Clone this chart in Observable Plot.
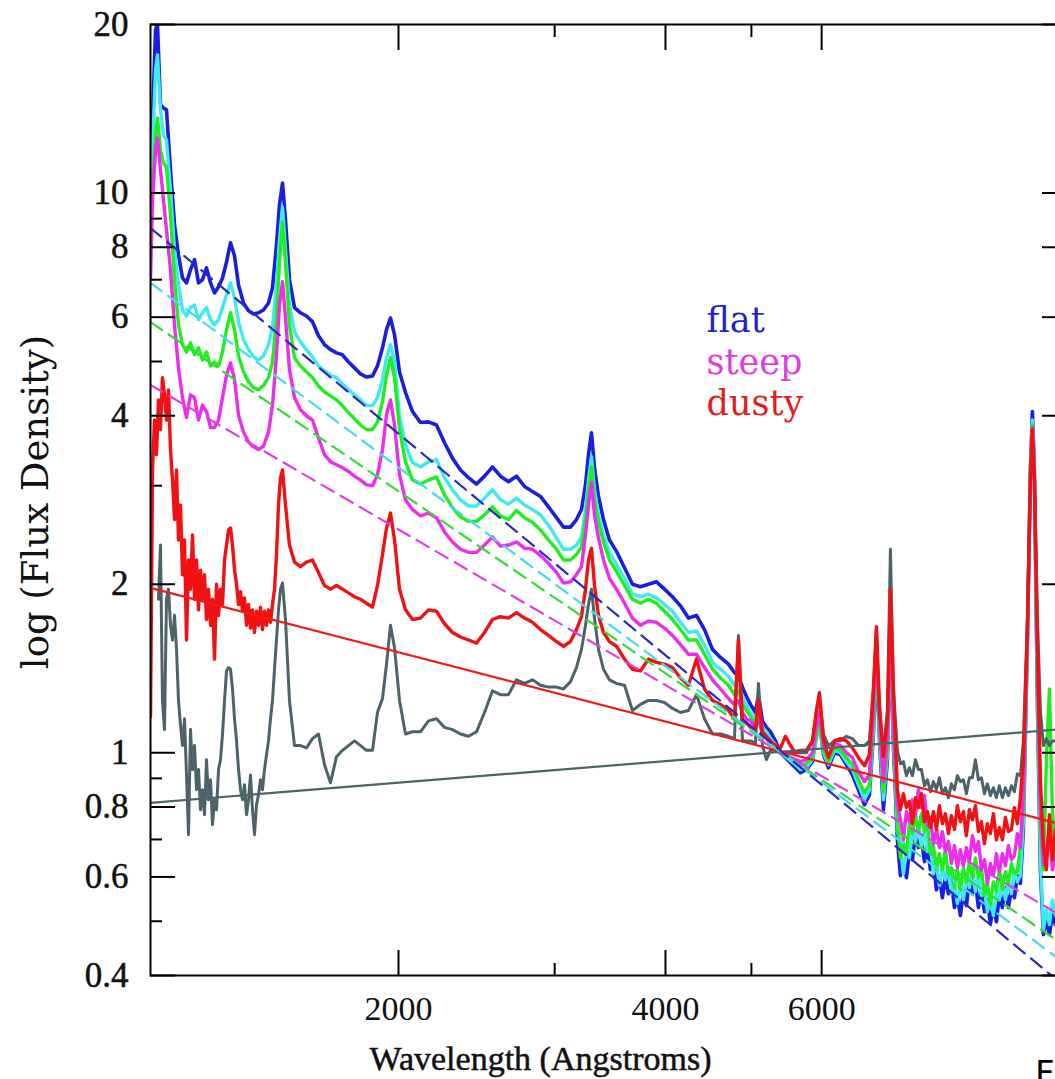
<!DOCTYPE html>
<html>
<head>
<meta charset="utf-8">
<script src="https://cdn.jsdelivr.net/npm/d3@7"></script>
<script src="https://cdn.jsdelivr.net/npm/@observablehq/plot@0.6"></script>
<style>
  html, body { margin: 0; padding: 0; background: #fff; overflow: hidden; width: 1055px; height: 1079px; }
  #chart { position: absolute; left: 0; top: 0; }
  #chart svg { max-width: none !important; display: block; }
  .corner { position: absolute; left: 1035px; top: 1056px; font: 34px "DejaVu Sans"; line-height: 34px; color: #000; }
</style>
</head>
<body>
<div id="chart"></div>
<div class="corner">F</div>
<script>
// Wavelength grid (Angstroms) shared by the composite spectra
const wavelength = [
  1050.5, 1056.0, 1064.3, 1069.7, 1078.1, 1086.5, 1095.0, 1106.5, 1118.1, 1129.7,
  1141.5, 1153.4, 1165.5, 1177.7, 1190.0, 1202.3, 1214.9, 1227.6, 1240.5, 1253.4,
  1266.5, 1279.7, 1293.0, 1306.6, 1320.2, 1337.4, 1354.9, 1372.5, 1390.5, 1408.6,
  1427.1, 1442.0, 1457.0, 1468.4, 1479.9, 1491.5, 1506.9, 1526.8, 1550.6, 1574.9,
  1599.7, 1624.8, 1650.4, 1676.3, 1702.6, 1729.3, 1756.5, 1784.2, 1812.1, 1840.5,
  1869.5, 1893.8, 1918.6, 1938.7, 1958.9, 1979.5, 2005.2, 2036.7, 2074.0, 2117.5,
  2162.0, 2207.3, 2253.8, 2300.9, 2349.2, 2398.5, 2448.9, 2500.4, 2552.7, 2606.3,
  2661.0, 2716.8, 2774.0, 2832.1, 2891.5, 2952.2, 3014.1, 3069.4, 3125.7, 3174.8,
  3216.2, 3249.9, 3275.3, 3300.8, 3326.8, 3361.3, 3405.2, 3458.5, 3522.1, 3596.3,
  3671.5, 3748.5, 3827.2, 3907.5, 3989.8, 4073.2, 4158.7, 4246.0, 4335.0, 4426.3,
  4518.9, 4613.7, 4710.6, 4784.7, 4834.4, 4884.8, 4935.8, 4987.3, 5052.6, 5092.0,
  5145.1, 5198.9, 5253.1, 5321.9, 5391.2, 5461.8, 5533.0, 5605.5, 5678.5, 5767.7,
  5858.1, 5919.3, 5965.3, 6027.8, 6106.7, 6202.9, 6299.8, 6398.7, 6499.1, 6601.3,
  6705.2, 6792.1, 6863.1, 6916.9, 6970.7, 7043.6, 7117.0, 7172.9, 7228.8, 7304.2,
  7361.5, 7418.9, 7477.1, 7535.2, 7594.4, 7654.1, 7713.8, 7774.0, 7835.2, 7895.7,
  7957.7, 8019.8, 8082.6, 8145.5, 8209.5, 8274.0, 8338.5, 8403.6, 8469.8, 8535.2,
  8602.2, 8669.3, 8737.3, 8805.2, 8874.3, 8944.1, 9013.8, 9084.2, 9155.7, 9226.4,
  9298.9, 9371.4, 9444.9, 9518.3, 9593.0, 9668.4, 9743.8, 9819.9, 9897.2, 9973.6,
  10052, 10130, 10236, 10316, 10370, 10424, 10505, 10588, 10671, 10754,
  10838, 10922, 11008, 11152
];

// Finer wavelength sampling of the noisy far-UV part of the dusty and grey spectra
const uvWavelength = [
  1050.5, 1056.0, 1061.5, 1067.0, 1072.5, 1078.1, 1083.7, 1089.4, 1095.0, 1100.7,
  1106.5, 1112.3, 1118.1, 1123.9, 1129.7, 1135.6, 1141.5, 1147.5, 1153.4, 1159.4,
  1165.5, 1171.6, 1177.7, 1183.8, 1190.0, 1196.1, 1202.3, 1208.6, 1214.9, 1221.2,
  1227.6, 1234.0, 1240.5, 1246.9, 1253.4, 1259.9, 1266.5, 1273.1, 1279.7, 1286.4,
  1293.0, 1299.8, 1306.6, 1313.4, 1320.2, 1327.0, 1333.9, 1340.9, 1347.9, 1354.9,
  1361.9, 1369.0, 1376.1, 1383.3, 1390.5, 1397.7, 1405.0, 1412.3, 1419.7, 1427.1,
  1434.5, 1442.0, 1449.5, 1457.0, 1464.6, 1472.2
];

// Flux density of the "flat" composite (blue)
const blueFlux = [
  9.14, 13.51, 19.56, 20.0, 14.37, 14.19, 14.08, 11.00, 8.77, 7.75,
  7.05, 6.91, 7.29, 7.60, 6.91, 7.00, 7.35, 6.91, 6.63, 6.80,
  7.05, 7.53, 8.15, 7.72, 6.85, 6.36, 6.16, 6.08, 6.11, 6.18,
  6.36, 6.77, 8.08, 9.52, 10.42, 8.95, 7.00, 6.24, 6.11, 6.03,
  5.89, 5.56, 5.36, 5.25, 5.18, 5.14, 4.99, 4.87, 4.75, 4.69,
  4.71, 4.91, 5.29, 5.70, 5.98, 5.58, 4.79, 4.40, 4.07, 3.89,
  3.90, 3.85, 3.58, 3.36, 3.20, 3.10, 3.02, 3.12, 3.24, 3.12,
  3.05, 3.12, 2.99, 2.93, 2.87, 2.75, 2.63, 2.53, 2.53, 2.61,
  2.72, 3.01, 3.41, 3.73, 3.23, 2.87, 2.61, 2.40, 2.29, 2.14,
  2.00, 1.98, 2.00, 2.02, 1.96, 1.90, 1.83, 1.74, 1.76, 1.66,
  1.53, 1.48, 1.44, 1.39, 1.37, 1.31, 1.26, 1.22, 1.18, 1.27,
  1.14, 1.11, 1.09, 1.05, 1.00, 0.980, 0.960, 0.940, 0.921, 0.933,
  0.964, 1.08, 1.14, 0.992, 0.940, 1.00, 0.992, 0.952, 0.913, 0.859,
  0.807, 0.841, 1.08, 1.47, 1.06, 0.791, 0.972, 1.69, 1.03, 0.699,
  0.603, 0.639, 0.598, 0.666, 0.644, 0.717, 0.677, 0.705, 0.639, 0.677,
  0.618, 0.639, 0.569, 0.598, 0.551, 0.603, 0.560, 0.588, 0.529, 0.551,
  0.512, 0.565, 0.533, 0.593, 0.560, 0.588, 0.529, 0.565, 0.520, 0.546,
  0.495, 0.533, 0.499, 0.556, 0.529, 0.574, 0.529, 0.569, 0.551, 0.603,
  0.584, 0.729, 1.59, 3.20, 4.07, 3.20, 1.24, 0.618, 0.473, 0.503,
  0.473, 0.514, 0.493, 0.483
];

// Cyan composite
const cyanFlux = [
  7.91, 11.94, 16.59, 17.65, 14.08, 12.70, 12.44, 10.13, 7.91, 6.85,
  6.18, 6.03, 6.24, 6.31, 5.94, 6.11, 6.24, 5.94, 5.81, 5.94,
  6.24, 6.58, 6.91, 6.50, 5.89, 5.47, 5.25, 5.10, 5.03, 5.12,
  5.36, 5.77, 6.85, 8.25, 9.44, 7.91, 6.31, 5.65, 5.42, 5.25,
  5.10, 4.91, 4.81, 4.73, 4.68, 4.56, 4.45, 4.36, 4.27, 4.17,
  4.17, 4.31, 4.64, 5.08, 5.36, 4.99, 4.00, 3.55, 3.30, 3.24,
  3.31, 3.34, 3.10, 2.95, 2.83, 2.76, 2.76, 2.85, 2.95, 2.83,
  2.78, 2.85, 2.77, 2.72, 2.66, 2.55, 2.42, 2.31, 2.31, 2.35,
  2.43, 2.72, 3.07, 3.38, 2.95, 2.66, 2.45, 2.28, 2.17, 2.05,
  1.92, 1.90, 1.92, 1.89, 1.84, 1.79, 1.71, 1.64, 1.65, 1.56,
  1.45, 1.41, 1.37, 1.32, 1.32, 1.26, 1.22, 1.18, 1.15, 1.20,
  1.11, 1.09, 1.06, 1.033, 1.00, 0.984, 0.968, 0.952, 0.933, 0.940,
  0.972, 1.06, 1.12, 1.00, 0.952, 1.01, 1.00, 0.964, 0.933, 0.877,
  0.824, 0.859, 1.10, 1.50, 1.08, 0.824, 0.992, 1.73, 1.06, 0.729,
  0.677, 0.608, 0.671, 0.649, 0.735, 0.694, 0.747, 0.677, 0.729, 0.666,
  0.688, 0.608, 0.634, 0.579, 0.623, 0.593, 0.628, 0.560, 0.584, 0.538,
  0.584, 0.546, 0.603, 0.574, 0.618, 0.565, 0.603, 0.556, 0.579, 0.520,
  0.551, 0.512, 0.569, 0.546, 0.593, 0.546, 0.588, 0.560, 0.618, 0.588,
  0.603, 0.759, 1.59, 3.14, 3.93, 3.14, 1.30, 0.644, 0.483, 0.524,
  0.493, 0.546, 0.514, 0.503
];

// Green composite
const greenFlux = [
  8.77, 10.34, 12.70, 13.62, 11.94, 11.32, 11.09, 9.14, 7.00, 5.81,
  5.36, 5.20, 5.40, 5.14, 5.29, 5.03, 5.20, 4.91, 4.99, 4.91,
  5.20, 5.70, 6.11, 5.70, 5.12, 4.79, 4.60, 4.49, 4.45, 4.53,
  4.68, 4.99, 5.98, 7.53, 8.88, 7.53, 5.81, 5.08, 4.91, 4.79,
  4.68, 4.52, 4.41, 4.34, 4.27, 4.17, 4.05, 3.95, 3.85, 3.78,
  3.78, 3.90, 4.24, 4.73, 5.08, 4.68, 3.78, 3.31, 3.07, 3.02,
  3.07, 3.11, 2.89, 2.74, 2.64, 2.59, 2.59, 2.66, 2.75, 2.65,
  2.61, 2.71, 2.63, 2.58, 2.50, 2.40, 2.31, 2.21, 2.21, 2.26,
  2.33, 2.61, 2.95, 3.24, 2.83, 2.59, 2.38, 2.21, 2.11, 1.99,
  1.88, 1.85, 1.88, 1.85, 1.79, 1.73, 1.66, 1.59, 1.59, 1.50,
  1.41, 1.36, 1.32, 1.27, 1.29, 1.22, 1.19, 1.16, 1.13, 1.18,
  1.09, 1.07, 1.05, 1.025, 1.00, 0.988, 0.976, 0.960, 0.948, 0.956,
  0.984, 1.08, 1.14, 1.01, 0.964, 1.02, 1.01, 0.980, 0.952, 0.895,
  0.848, 0.877, 1.12, 1.54, 1.10, 0.852, 1.01, 1.79, 1.08, 0.759,
  0.649, 0.688, 0.660, 0.747, 0.717, 0.772, 0.723, 0.778, 0.723, 0.747,
  0.660, 0.682, 0.618, 0.660, 0.618, 0.671, 0.603, 0.623, 0.574, 0.618,
  0.569, 0.623, 0.588, 0.639, 0.598, 0.649, 0.598, 0.623, 0.556, 0.584,
  0.533, 0.588, 0.565, 0.618, 0.569, 0.613, 0.584, 0.634, 0.608, 0.613,
  0.682, 0.791, 1.59, 3.10, 3.85, 3.07, 1.35, 0.729, 0.618, 0.972,
  1.30, 0.791, 0.644, 0.618
];

// Flux density of the "steep" composite (magenta)
const magentaFlux = [
  7.00, 9.72, 11.94, 12.54, 11.00, 9.72, 8.59, 7.29, 5.81, 4.87,
  4.31, 3.97, 4.36, 4.31, 3.93, 4.18, 4.07, 3.81, 3.81, 3.93,
  4.31, 4.73, 4.97, 4.64, 4.01, 3.74, 3.59, 3.52, 3.48, 3.53,
  3.74, 4.18, 5.14, 6.31, 6.94, 5.98, 4.83, 4.31, 4.10, 4.00,
  3.93, 3.65, 3.41, 3.31, 3.27, 3.23, 3.18, 3.12, 3.07, 3.01,
  3.00, 3.14, 3.48, 4.02, 4.27, 3.85, 3.14, 2.83, 2.72, 2.65,
  2.68, 2.63, 2.48, 2.38, 2.31, 2.28, 2.28, 2.35, 2.43, 2.34,
  2.35, 2.38, 2.32, 2.31, 2.25, 2.18, 2.10, 2.01, 2.02, 2.08,
  2.15, 2.45, 2.77, 3.04, 2.66, 2.42, 2.21, 2.05, 1.96, 1.85,
  1.74, 1.69, 1.72, 1.71, 1.67, 1.62, 1.56, 1.50, 1.50, 1.42,
  1.35, 1.30, 1.25, 1.22, 1.24, 1.18, 1.15, 1.14, 1.11, 1.15,
  1.08, 1.06, 1.04, 1.02, 1.00, 0.992, 0.980, 0.972, 0.964, 0.972,
  1.00, 1.12, 1.18, 1.03, 0.984, 1.04, 1.03, 1.00, 0.980, 0.925,
  0.888, 0.913, 1.19, 1.59, 1.15, 0.888, 1.06, 1.85, 1.12, 0.808,
  0.759, 0.699, 0.785, 0.753, 0.824, 0.772, 0.859, 0.798, 0.838, 0.741,
  0.766, 0.688, 0.729, 0.677, 0.723, 0.666, 0.694, 0.634, 0.682, 0.623,
  0.671, 0.628, 0.677, 0.639, 0.711, 0.666, 0.694, 0.618, 0.644, 0.584,
  0.634, 0.603, 0.660, 0.613, 0.660, 0.628, 0.682, 0.644, 0.655, 0.717,
  0.677, 0.859, 1.62, 3.07, 3.81, 3.07, 1.47, 0.791, 0.631, 0.671,
  0.729, 0.618, 0.657, 0.644
];

// Flux density of the "dusty" composite (red); the far UV is in redUvFlux
const redFlux = [
  null, null, null, null, null, null, null, null, null, null,
  null, null, null, null, null, null, null, null, null, null,
  null, null, null, null, null, null, null, null, null, null,
  null, null, null, null, 3.20, 2.77, 2.35, 2.19, 2.15, 2.19,
  2.21, 2.10, 1.99, 1.96, 1.99, 1.96, 1.93, 1.90, 1.88, 1.85,
  1.82, 1.99, 2.26, 2.52, 2.68, 2.40, 1.96, 1.80, 1.73, 1.74,
  1.80, 1.79, 1.70, 1.64, 1.61, 1.59, 1.57, 1.64, 1.73, 1.75,
  1.74, 1.78, 1.74, 1.71, 1.66, 1.62, 1.58, 1.55, 1.58, 1.66,
  1.75, 1.96, 2.21, 2.32, 1.99, 1.76, 1.64, 1.58, 1.55, 1.47,
  1.41, 1.40, 1.47, 1.45, 1.44, 1.42, 1.36, 1.32, 1.47, 1.30,
  1.24, 1.22, 1.19, 1.15, 1.59, 1.14, 1.13, 1.11, 1.10, 1.24,
  1.09, 1.07, 1.05, 1.03, 1.02, 1.07, 1.03, 1.00, 1.01, 1.01,
  1.05, 1.19, 1.28, 1.06, 0.980, 1.05, 1.06, 1.05, 1.02, 0.980,
  0.948, 0.992, 1.30, 1.68, 1.22, 0.984, 1.15, 1.96, 1.30, 0.859,
  0.791, 0.845, 0.798, 0.818, 0.747, 0.831, 0.798, 0.845, 0.753, 0.785,
  0.735, 0.785, 0.729, 0.804, 0.747, 0.778, 0.717, 0.772, 0.729, 0.804,
  0.753, 0.785, 0.711, 0.791, 0.759, 0.804, 0.723, 0.753, 0.688, 0.747,
  0.717, 0.778, 0.699, 0.735, 0.699, 0.766, 0.723, 0.729, 0.798, 0.747,
  0.831, 0.972, 1.66, 3.10, 3.78, 3.10, 1.59, 0.895, 0.685, 0.618,
  0.775, 0.644, 0.729, 0.685
];
const redUvFlux = [
  1.16, 3.20, 3.93, 3.41, 4.27, 3.78, 4.68, 4.36, 3.93, 4.45,
  3.48, 3.07, 2.61, 3.20, 2.40, 2.77, 2.08, 2.40, 1.59, 2.21,
  1.96, 2.45, 1.88, 2.21, 1.80, 2.12, 1.88, 2.08, 1.73, 1.96,
  1.69, 1.88, 1.47, 2.00, 1.76, 1.96, 1.84, 2.21, 2.35, 2.50,
  2.52, 2.35, 2.12, 2.00, 1.84, 1.94, 1.79, 1.89, 1.69, 1.84,
  1.67, 1.80, 1.64, 1.79, 1.69, 1.82, 1.66, 1.79, 1.69, 1.80,
  1.71, 1.84, 1.96, 2.26, 2.77, 3.10
];

// Grey composite; the far UV is in grayUvFlux (no data blueward of Lyman alpha)
const grayFlux = [
  null, null, null, null, null, null, null, null, null, null,
  null, null, null, null, null, null, null, null, null, null,
  null, null, null, null, null, null, null, null, null, null,
  null, null, null, null, 2.01, 1.73, 1.24, 1.03, 1.03, 1.02,
  1.06, 1.08, 0.952, 0.884, 0.984, 1.01, 1.03, 1.05, 1.03, 1.01,
  1.01, 1.18, 1.25, 1.44, 1.69, 1.54, 1.24, 1.08, 1.09, 1.09,
  1.14, 1.15, 1.11, 1.10, 1.08, 1.07, 1.09, 1.18, 1.29, 1.27,
  1.27, 1.35, 1.33, 1.35, 1.32, 1.31, 1.31, 1.30, 1.34, 1.42,
  1.53, 1.69, 1.84, 1.96, 1.74, 1.53, 1.41, 1.35, 1.33, 1.32,
  1.19, 1.22, 1.24, 1.24, 1.23, 1.20, 1.18, 1.19, 1.27, 1.15,
  1.08, 1.08, 1.07, 1.06, 1.62, 1.05, 1.05, 1.05, 1.04, 1.33,
  1.03, 0.972, 1.01, 1.01, 1.00, 1.00, 1.00, 1.00, 1.00, 1.00,
  1.05, 1.18, 1.26, 1.08, 1.03, 1.05, 1.05, 1.07, 1.06, 1.03,
  1.03, 1.05, 1.30, 1.66, 1.18, 1.01, 1.19, 2.31, 1.30, 1.01,
  0.956, 0.964, 0.910, 0.940, 0.910, 0.972, 0.933, 0.933, 0.873, 0.895,
  0.852, 0.888, 0.859, 0.902, 0.845, 0.866, 0.831, 0.880, 0.859, 0.910,
  0.888, 0.895, 0.845, 0.902, 0.902, 0.972, 0.895, 0.902, 0.845, 0.880,
  0.838, 0.866, 0.831, 0.873, 0.831, 0.866, 0.838, 0.873, 0.852, 0.917,
  0.910, 1.05, 1.73, 3.07, 3.65, 3.10, 1.76, 1.19, 1.03, 1.06,
  1.03, 1.05, 1.05, 1.05
];
const grayUvFlux = [
  null, null, null, null, 1.88, 2.35, 1.24, 1.10, 1.88, 1.96,
  1.69, 1.59, 1.76, 1.53, 1.24, 1.12, 1.03, 1.15, 0.913, 0.714,
  1.10, 0.933, 1.03, 0.859, 0.933, 0.791, 0.859, 0.775, 0.972, 0.824,
  0.895, 0.744, 0.824, 0.791, 0.933, 0.972, 1.08, 1.24, 1.40, 1.42,
  1.41, 1.30, 1.15, 1.05, 0.933, 0.859, 0.824, 0.877, 0.775, 0.824,
  0.913, 0.791, 0.714, 0.808, 0.841, 0.895, 0.859, 0.933, 0.992, 1.05,
  1.15, 1.24, 1.41, 1.59, 1.80, 1.96
];

// Power-law continuum fits, given at the two ends of the wavelength range
const fitWavelength = [1050.5, 11330];
const blueFit = [8.66, 0.380];
const cyanFit = [6.91, 0.418];
const greenFit = [5.88, 0.450];
const magentaFit = [4.54, 0.505];
const redFit = [1.97, 0.741];
const grayFit = [0.814, 1.104];

// Axis ticks
const yMajor = [0.4, 0.6, 0.8, 1, 2, 4, 6, 8, 10, 20];
const yMinor = [0.5, 0.7, 0.9, 3, 5, 7, 9];
const xMajor = [2000, 4000, 6000];
const xMinor = [3000, 5000];

// Legend
const legendLabels = ["flat", "steep", "dusty"];
const legendColors = ["#1f22d0", "#e23ae2", "#e21c1c"];

// Pair wavelengths with fluxes, dropping samples without data
const toRows = (waves, fluxes) => waves.map((w, i) => ({w, f: fluxes[i]})).filter(d => d.f != null);

const spectra = [
  {rows: toRows(wavelength, blueFlux), color: "#1a1ee0", width: 3.6},
  {rows: toRows(wavelength, cyanFlux), color: "#3eeaf0", width: 3.4},
  {rows: toRows(wavelength, greenFlux), color: "#1fee1f", width: 3.4},
  {rows: toRows(wavelength, magentaFlux), color: "#ee2cee", width: 3.4},
  {rows: [...toRows(uvWavelength, grayUvFlux), ...toRows(wavelength, grayFlux)], color: "#4c6469", width: 3.0},
  {rows: [...toRows(uvWavelength, redUvFlux), ...toRows(wavelength, redFlux)], color: "#f01212", width: 3.4}
];

const fits = [
  {flux: grayFit, color: "#4c6469", dash: null},
  {flux: redFit, color: "#f01a1a", dash: null},
  {flux: magentaFit, color: "#e040e0", dash: "14,8"},
  {flux: greenFit, color: "#30dd30", dash: "14,8"},
  {flux: cyanFit, color: "#40dcec", dash: "14,8"},
  {flux: blueFit, color: "#2a2ac0", dash: "14,8"}
];

const W = 1080, H = 1079;
const tickFont = "Liberation Serif";
const titleFont = "DejaVu Serif";

const marks = [];

// Spectra
for (const s of spectra) {
  marks.push(Plot.line(s.rows, {x: "w", y: "f", stroke: s.color, strokeWidth: s.width, strokeLinejoin: "round", clip: true}));
}

// Continuum fits
for (const f of fits) {
  marks.push(Plot.line(toRows(fitWavelength, f.flux), {x: "w", y: "f", stroke: f.color, strokeWidth: 2.2,
    strokeDasharray: f.dash, clip: true}));
}

// Frame and inward-pointing ticks on all four sides
marks.push(Plot.frame({stroke: "#000", strokeWidth: 2}));
const tickStyle = {stroke: "#000", strokeWidth: 2, fill: "none", label: null};
marks.push(
  Plot.axisY({...tickStyle, anchor: "left", ticks: yMajor, tickSize: 25, dx: 25}),
  Plot.axisY({...tickStyle, anchor: "left", ticks: yMinor, tickSize: 12, dx: 12}),
  Plot.axisY({...tickStyle, anchor: "right", ticks: yMajor, tickSize: 25, dx: -25}),
  Plot.axisY({...tickStyle, anchor: "right", ticks: yMinor, tickSize: 12, dx: -12}),
  Plot.axisX({...tickStyle, anchor: "bottom", ticks: xMajor, tickSize: 25, dy: -25}),
  Plot.axisX({...tickStyle, anchor: "bottom", ticks: xMinor, tickSize: 12, dy: -12}),
  Plot.axisX({...tickStyle, anchor: "top", ticks: xMajor, tickSize: 25, dy: 25}),
  Plot.axisX({...tickStyle, anchor: "top", ticks: xMinor, tickSize: 12, dy: 12})
);

// Tick labels
const labelStyle = {fontFamily: tickFont, fill: "#111", stroke: "#111", strokeWidth: 0.5};
marks.push(
  Plot.text(yMajor, {...labelStyle, y: d => d, text: d => `${d}`, frameAnchor: "left", dx: -22,
    textAnchor: "end", fontSize: 35}),
  Plot.axisX({...labelStyle, anchor: "bottom", ticks: xMajor, tickSize: 0, tickPadding: 20, tickFormat: d => `${d}`,
    fontSize: 34, label: null})
);

// Axis titles
marks.push(
  Plot.text(["Wavelength (Angstroms)"], {...labelStyle, frameAnchor: "bottom", dx: -68, dy: 84, fontSize: 34,
    textAnchor: "middle", lineAnchor: "middle"}),
  Plot.text(["log (Flux Density)"], {fontFamily: titleFont, fill: "#111", frameAnchor: "left", dx: -114, dy: 2,
    rotate: -90, fontSize: 37, textAnchor: "middle"})
);

// Legend
legendLabels.forEach((label, i) => {
  marks.push(Plot.text([label], {frameAnchor: "top-left", dx: 556, dy: 283 + i * 41.5, fontSize: 35,
    fontFamily: titleFont, fill: legendColors[i], textAnchor: "start", ariaLabel: "legend"}));
});

const chart = Plot.plot({
  width: W,
  height: H,
  marginLeft: 150,
  marginRight: W - 1066,
  marginTop: 24,
  marginBottom: H - 975,
  style: {background: "#fff", color: "#000", fontFamily: tickFont, fontSize: "34px", maxWidth: "none", overflow: "visible"},
  x: {type: "log", domain: [1050.5, 11330], label: null},
  y: {type: "log", domain: [0.4, 20], label: null},
  marks
});

// Slightly wider letter spacing for the legend words
d3.select(chart).selectAll('g[aria-label="legend"] text').style("letter-spacing", "2px");

document.getElementById("chart").append(chart);
</script>
</body>
</html>
